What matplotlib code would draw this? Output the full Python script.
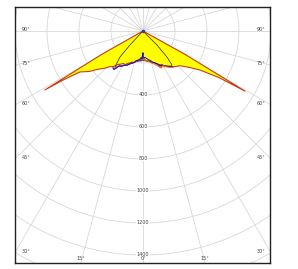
import numpy as np
import matplotlib
matplotlib.use("Agg")
import matplotlib.pyplot as plt

# ---- data (angle from nadir in degrees, intensity in cd) ----
red_angles = [-90, -62, -60.5, -59, -58.5, -57, -53, -50, -46, -43, -40, -37, -34, -31,
              -28, -25, -22, -19, -16, -13, -10, -7, -4, -1, 0, 2, 5, 8, 11, 14, 17, 20,
              23, 25, 27, 29, 32, 35, 38, 40, 44, 47, 52, 55.6, 58.5, 59.5, 61, 62, 90]
red_values = [0, 0, 300, 715, 590, 470, 420, 373, 335, 305, 290, 262, 250, 236,
              240, 222, 215, 205, 206, 195, 190, 182, 186, 176, 172, 178, 182, 190, 188, 200, 205, 212,
              220, 245, 254, 240, 262, 270, 285, 293, 306, 318, 370, 431, 557, 740, 300, 0, 0]

orange_angles = [-38, -34, -30, -26, -22, -18, -14, -10, -6, -2, 2, 6, 10, 14, 18, 22, 26, 30, 34, 38]
orange_values = [288, 262, 246, 232, 220, 210, 200, 188, 180, 175, 178, 184, 192, 204, 215, 232, 258, 250, 272, 290]

blue_angles = [-39, -37, -34, -31, -28, -25, -22, -19, -16, -13, -10, -7, -4, -2, -1, 0, 1, 2, 4,
               7, 10, 14, 18, 22, 26, 30, 34, 38, 40]
blue_values = [297, 300, 262, 256, 241, 236, 222, 214, 205, 192, 185, 182, 168, 175, 150, 137, 160, 172, 165,
               172, 180, 190, 206, 220, 240, 246, 266, 284, 292]

black_angles = [-44, -43, -41.5, -38, -30, -20, -10, 0, 10, 20, 30, 38, 40.5, 42.7, 45, 46]
black_values = [0, 120, 217, 285, 250, 212, 192, 185, 192, 212, 250, 279, 279, 221, 124, 0]

ring_values = [400, 600, 800, 1000, 1200, 1400]
ring_labels = ["400", "600", "800", "1000", "1200", "1400"]
side_angles = [90, 75, 60, 45, 30]
bottom_angles = [-15, 0, 15]


def to_xy(angles, values):
    t = np.radians(np.asarray(angles, float))
    r = np.asarray(values, float)
    return r * np.sin(t), -r * np.cos(t)


fig = plt.figure(figsize=(2.98, 2.69), dpi=100)
ax = fig.add_axes([15 / 298, 6 / 269, 255 / 298, 256 / 269])
ax.set_xlim(-800, 794)
ax.set_ylim(-1450, 150)
ax.set_aspect("equal")
ax.set_xticks([])
ax.set_yticks([])
for s in ax.spines.values():
    s.set_linewidth(1.0)
    s.set_color("#222222")

# grid
gc = "#d8d8d8"
phi = np.linspace(0, 2 * np.pi, 400)
for rr in range(200, 2201, 200):
    ax.plot(rr * np.cos(phi), rr * np.sin(phi), color=gc, lw=0.6, zorder=1)
for a in range(0, 360, 15):
    t = np.radians(a)
    ax.plot([0, 2500 * np.sin(t)], [0, -2500 * np.cos(t)], color=gc, lw=0.6, zorder=1)

# ring labels
for v, lab in zip(ring_values, ring_labels):
    ax.text(0, -v + 5, lab, fontsize=3.5, color="#444444", ha="center", va="center", zorder=2,
            bbox=dict(facecolor="white", edgecolor="none", pad=0.3))

# angle labels on box edges
for a in side_angles:
    y = -800 / np.tan(np.radians(a)) if a != 90 else 0
    ax.text(-760, y + 10, f"{a}°", fontsize=3.5, color="#444444", ha="left", va="center", zorder=2)
    ax.text(765, y + 10, f"{a}°", fontsize=3.5, color="#444444", ha="right", va="center", zorder=2)
for a in bottom_angles:
    x = 1450 * np.tan(np.radians(a))
    ax.text(x, -1420, f"{abs(a)}°", fontsize=3.5, color="#444444", ha="center", va="center", zorder=2)

# curves
xr, yr = to_xy(red_angles, red_values)
ax.fill(xr, yr, color="#ffff00", zorder=3, lw=0)
ax.plot(xr, yr, color="#c83c14", lw=0.8, zorder=4)
xb, yb = to_xy(black_angles, black_values)
ax.plot(xb, yb, color="#222222", lw=0.5, zorder=5)
xu, yu = to_xy(blue_angles, blue_values)
ax.plot(xu, yu, color="#1010dd", lw=0.7, zorder=5)
xo, yo = to_xy(orange_angles, orange_values)
ax.plot(xo, yo, color="#ff6a00", lw=0.7, zorder=6)
ax.plot(xu[:16], yu[:16], color="#1010dd", lw=0.7, zorder=7)
ax.plot([0], [0], marker="o", ms=1.5, color="#4030c0", zorder=7)

fig.savefig("out.png", dpi=100)
